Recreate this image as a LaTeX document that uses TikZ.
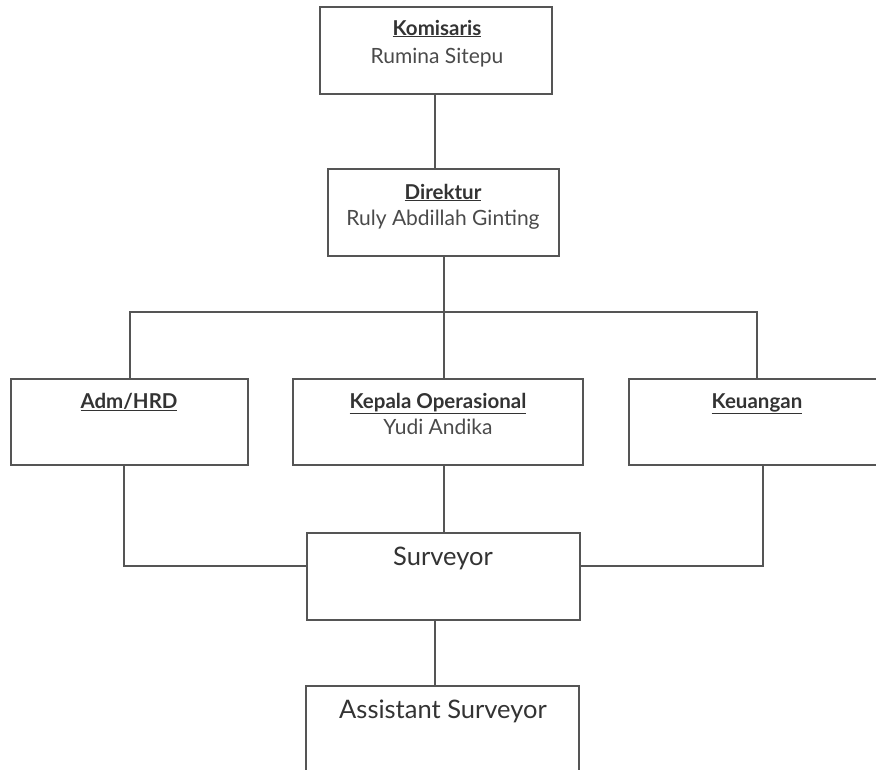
\documentclass[tikz,border=0pt]{standalone}
\usepackage{fontspec}
\setmainfont{Lato}
\definecolor{ln}{HTML}{555555}
\definecolor{tt}{HTML}{333333}
\definecolor{st}{HTML}{4A4A4A}
\begin{document}
\begin{tikzpicture}[x=1pt,y=-1pt,
  box/.style={draw=ln,line width=1.4pt,rectangle,inner sep=0pt},
  ttl/.style={anchor=base,text=tt,font=\fontsize{20.5}{22}\selectfont\bfseries,inner sep=0pt},
  sub/.style={anchor=base,text=st,font=\fontsize{21}{23}\selectfont,inner sep=0pt},
  big/.style={anchor=base,text=tt,font=\fontsize{25.5}{28}\selectfont,inner sep=0pt},
  conn/.style={draw=ln,line width=1.4pt}]
\useasboundingbox (0,0) rectangle (876,769);
\clip (0,0) rectangle (876,769);
\node[box,minimum width=232pt,minimum height=87pt] (kom) at (436,50.5) {};
\node[box,minimum width=231pt,minimum height=87pt] (dir) at (443.5,212.5) {};
\node[box,minimum width=237pt,minimum height=86pt] (adm) at (129.5,422) {};
\node[box,minimum width=290pt,minimum height=86pt] (kep) at (438,422) {};
\node[box,minimum width=256pt,minimum height=86pt] (keu) at (757,422) {};
\node[box,minimum width=273pt,minimum height=87pt] (sur) at (443.5,576.5) {};
\node[box,minimum width=273pt,minimum height=104pt] (ast) at (442.5,738) {};
% texts
\node[ttl] (komt) at (437,35) {\underline{Komisaris}};
\node[sub] (koms) at (437,63) {Rumina Sitepu};
\node[ttl] (dirt) at (443,199) {\underline{Direktur}};
\node[sub] (dirs) at (443,225) {Ruly Abdillah Ginting};
\node[ttl] (admt) at (129,408) {\underline{Adm/HRD}};
\node[ttl] (kept) at (438,408) {\underline{Kepala Operasional}};
\node[sub] (keps) at (438,434) {Yudi Andika};
\node[ttl] (keut) at (757,408) {\underline{Keuangan}};
\node[big] (surt) at (443,565) {Surveyor};
\node[big] (astt) at (443,718) {Assistant Surveyor};
% connectors
\coordinate (bus) at (444,312);
\draw[conn] (kom.south -| 435,0) -- (dir.north -| 435,0);
\draw[conn] (dir.south -| bus) -- (bus);
\draw[conn] (adm.north -| 130,0) |- (bus) -| (keu.north);
\draw[conn] (bus) -- (kep.north -| bus);
\draw[conn] (kep.south -| 444,0) -- (sur.north -| 444,0);
\draw[conn] (adm.south -| 124,0) |- (sur.west |- 0,566);
\draw[conn] (keu.south -| 763,0) |- (sur.east |- 0,566);
\draw[conn] (sur.south -| 435,0) -- (ast.north -| 435,0);
\end{tikzpicture}
\end{document}
